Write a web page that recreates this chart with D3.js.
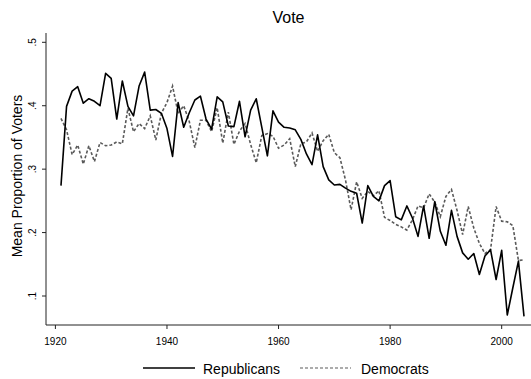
<!DOCTYPE html>
<html>
<head>
<meta charset="utf-8">
<script src="https://cdn.jsdelivr.net/npm/d3@7"></script>
<style>
  body { margin: 0; background: #fff; }
  text { font-family: "Liberation Sans", Arial, sans-serif; fill: #000; }
</style>
</head>
<body>
<div id="chart"></div>
<script>
// years 1921 - 2004, one point per year
var years = d3.range(1921, 2005);

var republicans = [
  0.274, 0.399, 0.423, 0.430, 0.404, 0.411, 0.407, 0.400, 0.451, 0.443,
  0.379, 0.439, 0.399, 0.384, 0.431, 0.453, 0.393, 0.394, 0.388, 0.364,
  0.320, 0.405, 0.366, 0.389, 0.409, 0.415, 0.379, 0.363, 0.414, 0.406,
  0.368, 0.367, 0.407, 0.351, 0.393, 0.411, 0.366, 0.321, 0.392, 0.374,
  0.366, 0.365, 0.362, 0.347, 0.324, 0.307, 0.354, 0.304, 0.283, 0.275,
  0.276, 0.270, 0.265, 0.262, 0.215, 0.274, 0.257, 0.250, 0.274, 0.282,
  0.225, 0.220, 0.242, 0.223, 0.194, 0.242, 0.191, 0.249, 0.202, 0.180,
  0.235, 0.194, 0.168, 0.158, 0.167, 0.134, 0.163, 0.173, 0.126, 0.172,
  0.070, 0.113, 0.155, 0.068
];

var democrats = [
  0.380, 0.362, 0.323, 0.338, 0.308, 0.337, 0.312, 0.342, 0.337, 0.338,
  0.343, 0.340, 0.396, 0.359, 0.372, 0.364, 0.384, 0.346, 0.388, 0.405,
  0.431, 0.388, 0.400, 0.375, 0.334, 0.377, 0.377, 0.359, 0.397, 0.341,
  0.390, 0.339, 0.360, 0.372, 0.339, 0.310, 0.353, 0.356, 0.352, 0.333,
  0.338, 0.348, 0.304, 0.340, 0.343, 0.357, 0.328, 0.345, 0.355, 0.326,
  0.318, 0.283, 0.236, 0.280, 0.254, 0.265, 0.258, 0.266, 0.224, 0.219,
  0.213, 0.209, 0.204, 0.220, 0.242, 0.239, 0.261, 0.248, 0.225, 0.257,
  0.268, 0.235, 0.197, 0.241, 0.207, 0.183, 0.167, 0.173, 0.241, 0.218,
  0.217, 0.211, 0.156, 0.157
];

var xTicks = [1920, 1940, 1960, 1980, 2000];
var yTicks = [0.1, 0.2, 0.3, 0.4, 0.5];

var w = 531;
var h = 379;

var svg = d3
  .select("#chart")
  .append("svg")
  .attr("width", w)
  .attr("height", h);

// scales
var x = d3.scaleLinear().domain([1920, 2004]).range([55.4, 524]);
var y = d3.scaleLinear().domain([0.1, 0.5]).range([296, 42.3]);

var axisLeft = 46;
var axisBottom = 325;

// axes lines
svg.append("line")
  .attr("x1", axisLeft).attr("x2", w)
  .attr("y1", axisBottom).attr("y2", axisBottom)
  .attr("stroke", "#222").attr("stroke-width", 1);

svg.append("line")
  .attr("x1", axisLeft).attr("x2", axisLeft)
  .attr("y1", 33).attr("y2", axisBottom)
  .attr("stroke", "#222").attr("stroke-width", 1);

// x ticks
var xt = svg.append("g").selectAll("g").data(xTicks).enter().append("g");
xt.append("line")
  .attr("x1", (d) => x(d)).attr("x2", (d) => x(d))
  .attr("y1", axisBottom).attr("y2", axisBottom + 4)
  .attr("stroke", "#222");
xt.append("text")
  .attr("x", (d) => x(d))
  .attr("y", 345)
  .attr("text-anchor", "middle")
  .attr("font-size", 10)
  .text((d) => d);

// y ticks, labels rotated like stata
var yt = svg.append("g").selectAll("g").data(yTicks).enter().append("g");
yt.append("line")
  .attr("x1", axisLeft - 4).attr("x2", axisLeft)
  .attr("y1", (d) => y(d)).attr("y2", (d) => y(d))
  .attr("stroke", "#222");
yt.append("text")
  .attr("transform", (d) => "translate(36," + y(d) + ") rotate(-90)")
  .attr("text-anchor", "middle")
  .attr("font-size", 10)
  .text((d) => d3.format(".1f")(d).replace("0.", "."));

// axis title
svg.append("text")
  .attr("transform", "translate(22,176) rotate(-90)")
  .attr("text-anchor", "middle")
  .attr("font-size", 14)
  .text("Mean Proportion of Voters");

// title
svg.append("text")
  .attr("x", 288.5)
  .attr("y", 23)
  .attr("text-anchor", "middle")
  .attr("font-size", 16)
  .text("Vote");

// lines
var line = d3.line()
  .x((d, i) => x(years[i]))
  .y((d) => y(d));

svg.append("path")
  .datum(democrats)
  .attr("fill", "none")
  .attr("stroke", "#5a5a5a")
  .attr("stroke-width", 1.6)
  .attr("stroke-dasharray", "3,2")
  .attr("d", line);

svg.append("path")
  .datum(republicans)
  .attr("fill", "none")
  .attr("stroke", "#000")
  .attr("stroke-width", 1.6)
  .attr("stroke-linejoin", "round")
  .attr("d", line);

// legend
var legend = svg.append("g");
legend.append("line")
  .attr("x1", 143).attr("x2", 195)
  .attr("y1", 368).attr("y2", 368)
  .attr("stroke", "#000").attr("stroke-width", 1.6);
legend.append("text")
  .attr("x", 203).attr("y", 374)
  .attr("font-size", 14)
  .text("Republicans");
legend.append("line")
  .attr("x1", 300).attr("x2", 351)
  .attr("y1", 368).attr("y2", 368)
  .attr("stroke", "#5a5a5a").attr("stroke-width", 1.2)
  .attr("stroke-dasharray", "3,2");
legend.append("text")
  .attr("x", 361).attr("y", 374)
  .attr("font-size", 14)
  .text("Democrats");
</script>
</body>
</html>
